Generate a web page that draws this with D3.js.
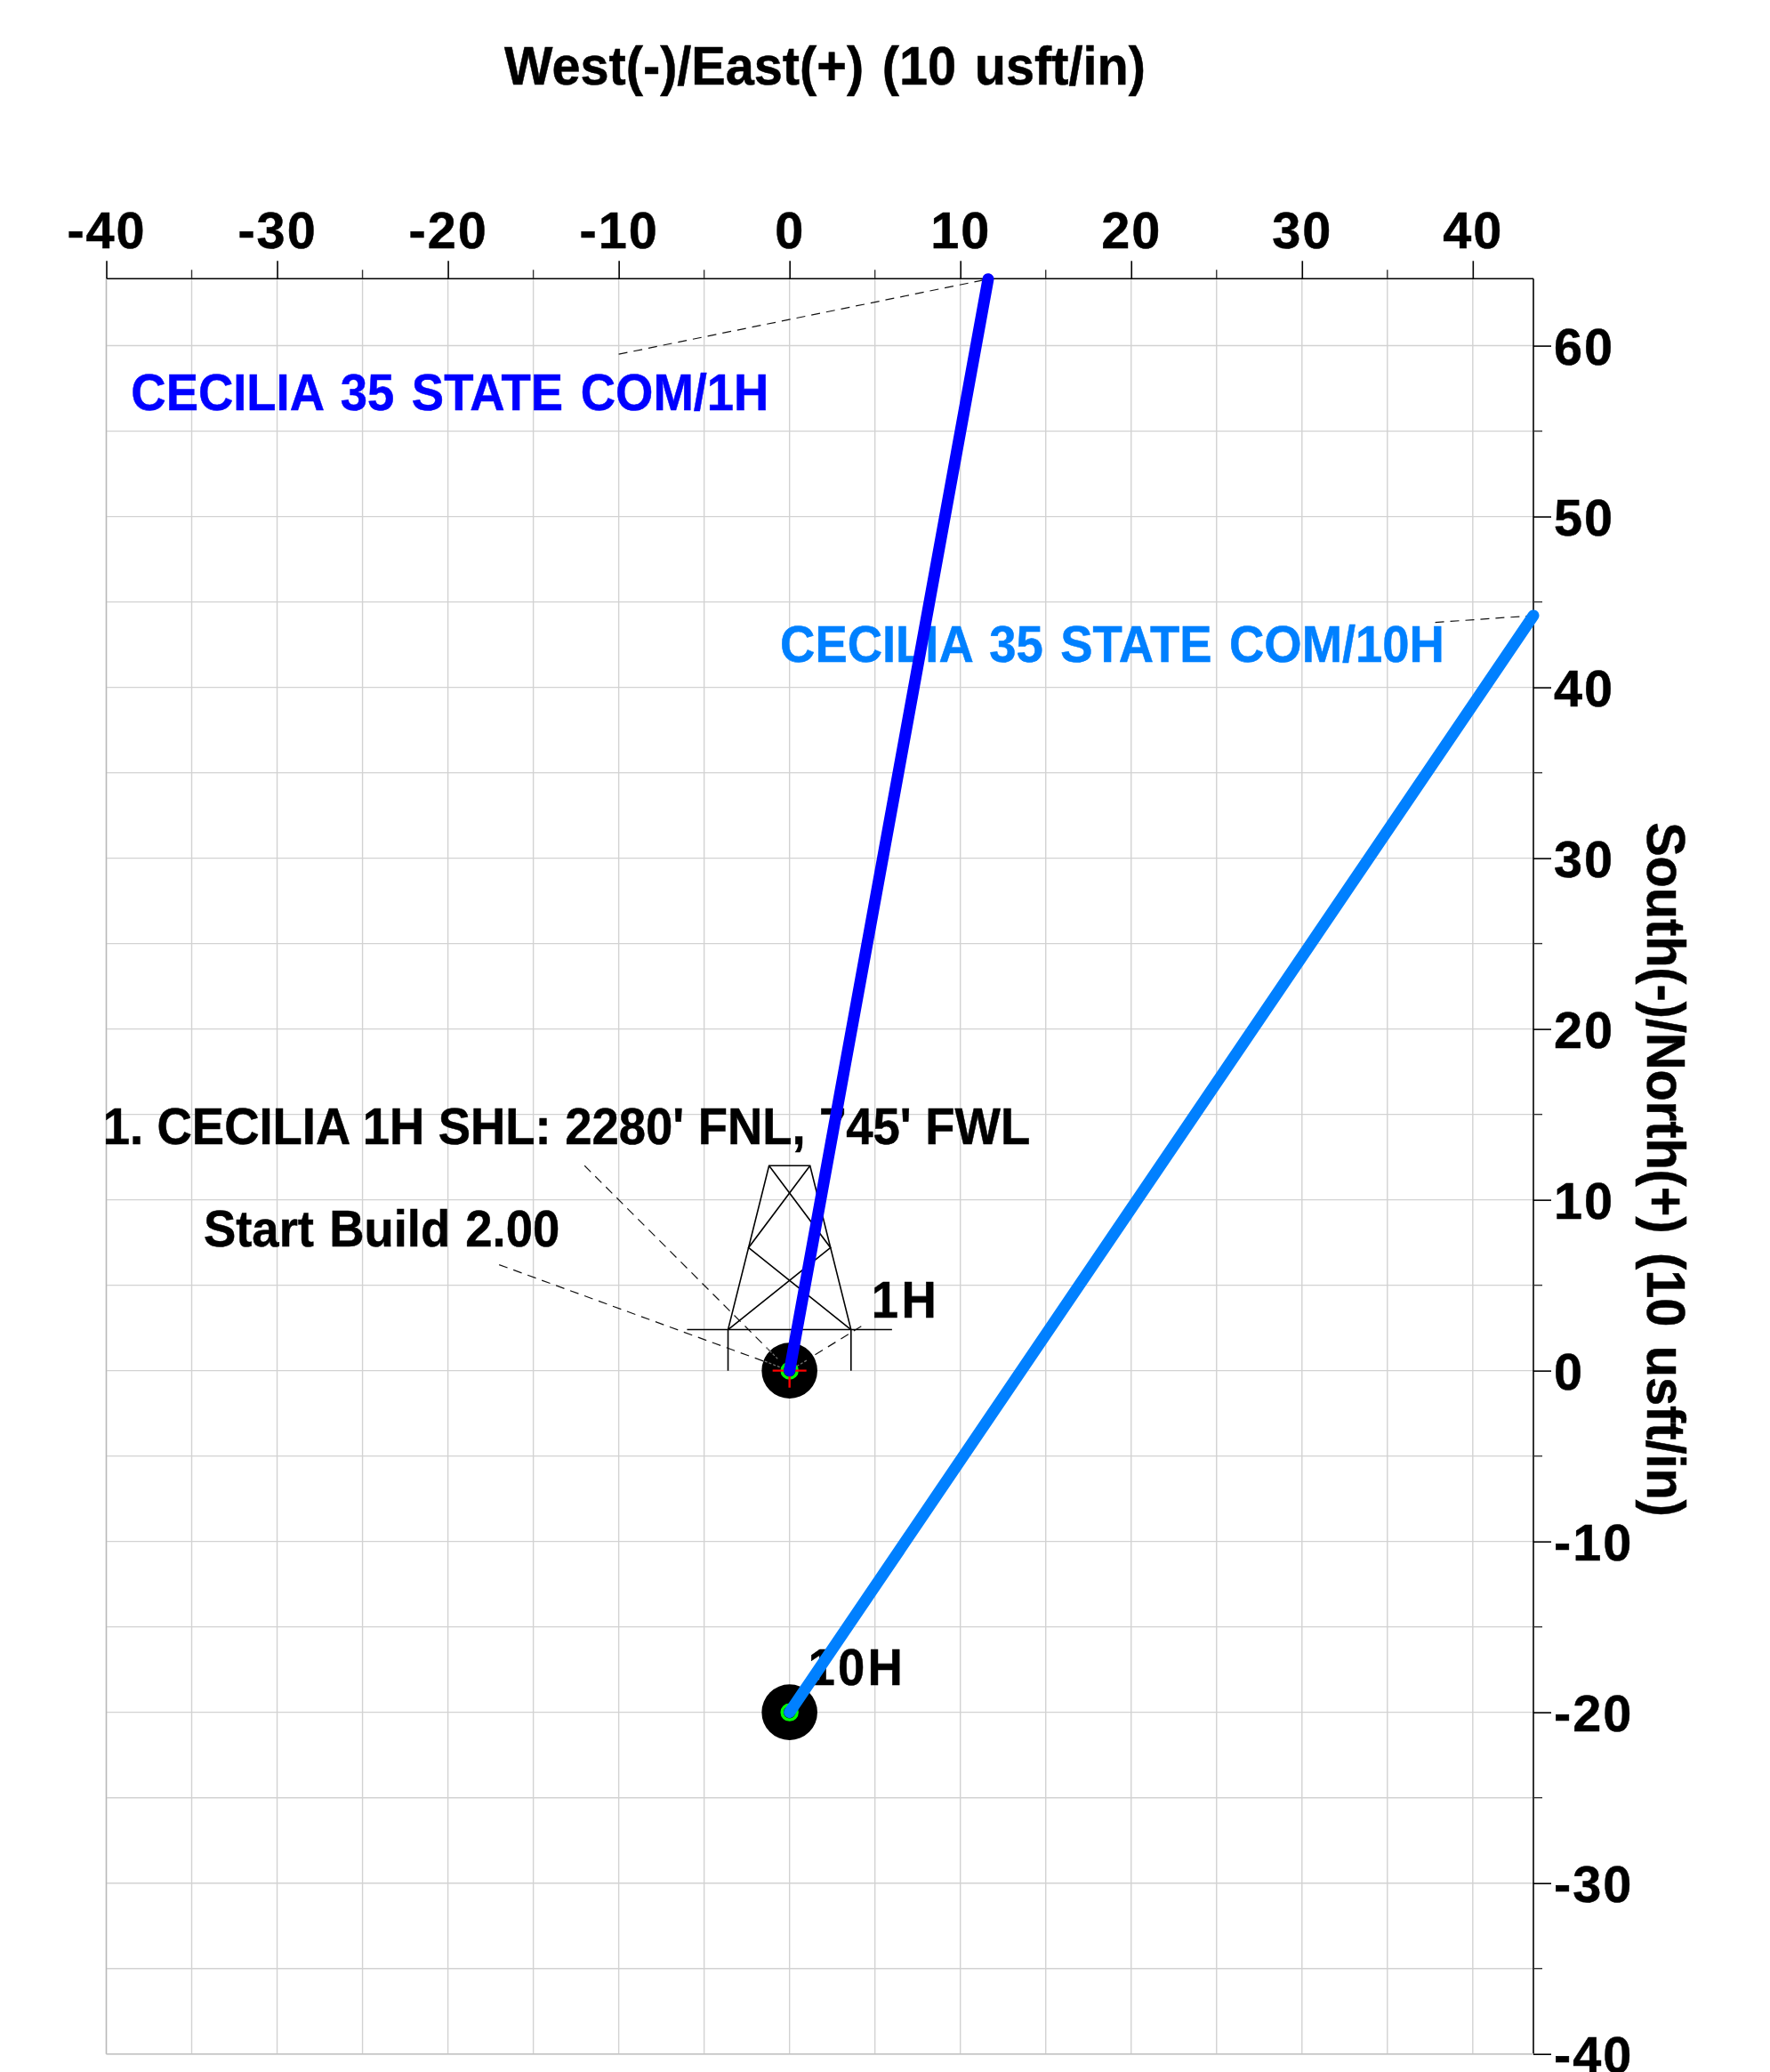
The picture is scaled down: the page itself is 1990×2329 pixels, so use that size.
<!DOCTYPE html>
<html><head><meta charset="utf-8">
<script src="https://cdn.jsdelivr.net/npm/d3@7"></script>
<style>html,body{margin:0;padding:0;background:#fff}svg{display:block}text{font-family:"Liberation Sans",Arial,sans-serif;font-weight:bold;stroke:currentColor;stroke-width:.5px}</style>
</head><body><script>
// ---- data (usft/in, east, north) ----
const xMajor = [-40,-30,-20,-10,0,10,20,30,40];
const yMajor = [60,50,40,30,20,10,0,-10,-20,-30,-40];
const xMinor = [-35,-25,-15,-5,5,15,25,35];
const yMinor = [55,45,35,25,15,5,-5,-15,-25,-35];
const well1H = [[0,0],[11.63,63.9]];
const well10H = [[0,-20],[43.55,44.2]];
const wellHeads = [[0,0],[0,-20]];
const derrickFrame = [[-3.6,0],[-3.6,2.4],[-1.2,12],[1.2,12],[3.6,2.4],[3.6,0]];
const derrickBraceA = [[-1.2,12],[2.4,7.2],[-3.6,2.4]];
const derrickBraceB = [[1.2,12],[-2.4,7.2],[3.6,2.4]];
const derrickBase = [[-6,2.4],[6,2.4]];
const leaders = [
  [[-10,59.5],[11.63,63.9]],
  [[37.8,43.8],[43.55,44.2]],
  [[-12,12],[0,0]],
  [[-17,6.2],[0,0]],
  [[4.2,2.6],[0,0]]
];
const leaderInner = [
  [[-1.35,1.35],[-0.7,0.7]],
  [[-1.45,0.55],[-0.3,0.1]],
  [[1.0,0.6],[0.4,0.25]]
];
const labels = [
  {t:"CECILIA 35 STATE COM/1H", x:-38.55, y:56.24, end:-1.2, c:"#0000ff"},
  {t:"CECILIA 35 STATE COM/10H", x:-0.55, y:41.48, end:38.35, c:"#0080ff"},
  {t:"1. CECILIA 1H SHL: 2280' FNL, 745' FWL", x:-40.2, y:13.25, end:14.1, c:"#000"},
  {t:"Start Build 2.00", x:-34.3, y:7.25, end:-13.45, c:"#000"},
  {t:"1H", x:4.8, y:3.1, c:"#000", spread:true},
  {t:"10H", x:1.08, y:-18.4, c:"#000", spread:true}
];
const xTitle = "West(-)/East(+) (10 usft/in)";
const yTitle = "South(-)/North(+) (10 usft/in)";

// ---- layout ----
const W=1990,H=2329,GLYPH_X=0.945;
const x=d3.scaleLinear().domain([-40,43.55]).range([119.5,1724]);
const y=d3.scaleLinear().domain([-40,63.92]).range([2308.7,313.3]);
const svg=d3.select("body").append("svg").attr("width",W).attr("height",H);
const line=d3.line().x(d=>x(d[0])).y(d=>y(d[1]));
const [L,R]=x.range(),[B,T]=y.range();

// Set a condensed glyph width and open the word gaps until the text spans `target` px
function fit(sel,target,px,py,rot,anchorMiddle){
  const n=sel.text().split(" ").length-1;
  if(target&&n){
    const natural=sel.node().getComputedTextLength();
    sel.style("word-spacing",((target/GLYPH_X-natural)/n)+"px");
  }
  if(anchorMiddle) sel.attr("text-anchor","middle");
  sel.attr("transform",`translate(${px},${py}) rotate(${rot}) scale(${GLYPH_X},1)`);
}

// grid
svg.append("g").selectAll("line").data(xMajor.concat(xMinor)).join("line")
 .attr("x1",d=>x(d)).attr("x2",d=>x(d)).attr("y1",T).attr("y2",B)
 .attr("stroke","#d2d2d2").attr("stroke-width",1.4);
svg.append("g").selectAll("line").data(yMajor.concat(yMinor)).join("line")
 .attr("x1",L).attr("x2",R).attr("y1",d=>y(d)).attr("y2",d=>y(d))
 .attr("stroke","#d2d2d2").attr("stroke-width",1.4);

// axes
const topAxis=d3.axisTop(x).tickValues(xMajor).tickSize(20).tickFormat(String);
const gt=svg.append("g").attr("transform",`translate(0,${T})`);
const rightAxis=d3.axisRight(y).tickValues(yMajor).tickSize(20).tickFormat(String);
const gr=svg.append("g").attr("transform",`translate(${R},0)`);
gt.call(topAxis); gr.call(rightAxis);
[gt,gr].forEach(g=>{g.attr("font-family",null).attr("font-size",null);
  g.selectAll("line,path").attr("stroke","#000").attr("stroke-width",1.6);
  g.selectAll("text").attr("fill","#000").style("color","#000").style("font-size","57.6px").style("letter-spacing","2px");});
gt.select(".domain").attr("d",`M${L},0H${R}`);
gr.select(".domain").attr("d",`M0,${T}V${B}`);
gt.selectAll("text").attr("y",-34).attr("dy",0);
gr.selectAll("text").attr("x",23).attr("dy","0.355em");
svg.append("g").selectAll("line").data(xMinor).join("line")
 .attr("x1",d=>x(d)).attr("x2",d=>x(d)).attr("y1",T).attr("y2",T-10).attr("stroke","#333").attr("stroke-width",1.4);
svg.append("g").selectAll("line").data(yMinor).join("line")
 .attr("x1",R).attr("x2",R+10).attr("y1",d=>y(d)).attr("y2",d=>y(d)).attr("stroke","#333").attr("stroke-width",1.4);
svg.append("line").attr("x1",L).attr("x2",L).attr("y1",T).attr("y2",B).attr("stroke","#b8b8b8").attr("stroke-width",1.4);
svg.append("line").attr("x1",L).attr("x2",R).attr("y1",B).attr("y2",B).attr("stroke","#c4c4c4").attr("stroke-width",1.6);

// titles
fit(svg.append("text").style("font-size","61px").text(xTitle),721,927.5,95,0,true);
fit(svg.append("text").style("font-size","61px").text(yTitle),781,1852,1314.5,90,true);

// labels
svg.append("g").selectAll("text").data(labels).join("text")
 .attr("fill",d=>d.c).style("color",d=>d.c).style("font-size","57.6px").style("letter-spacing",d=>d.spread?"3.5px":null).text(d=>d.t)
 .each(function(d){fit(d3.select(this),d.end===undefined?0:x(d.end)-x(d.x),x(d.x),y(d.y),0,false);});

// leaders
svg.append("g").selectAll("path").data(leaders).join("path").attr("d",line)
 .attr("fill","none").attr("stroke","#111").attr("stroke-width",1.2).attr("stroke-dasharray","10 7");

// derrick
const dg=svg.append("g").attr("fill","none").attr("stroke","#000").attr("stroke-width",1.6);
[derrickFrame,derrickBraceA,derrickBraceB,derrickBase].forEach(p=>dg.append("path").attr("d",line(p)));

// well heads
const r=31.3;
svg.append("g").selectAll("circle").data(wellHeads).join("circle")
 .attr("cx",d=>x(d[0])).attr("cy",d=>y(d[1])).attr("r",r).attr("fill","#000");
svg.append("g").selectAll("path").data(leaderInner).join("path").attr("d",line)
 .attr("fill","none").attr("stroke","#777").attr("stroke-width",1.2).attr("stroke-dasharray","3 2");
svg.append("g").selectAll("circle").data(wellHeads).join("circle")
 .attr("cx",d=>x(d[0])).attr("cy",d=>y(d[1])).attr("r",8.5).attr("fill","none").attr("stroke","#00ff00").attr("stroke-width",3.4);
// red cross at surface hole of 1H
const cx=x(0),cy=y(0);
svg.append("path").attr("d",`M${cx-19},${cy}H${cx+19}M${cx},${cy}V${cy+19}`).attr("stroke","#ff0000").attr("stroke-width",2.4).attr("fill","none");

// wellbores
[[well1H,"#0000ff"],[well10H,"#0080ff"]].forEach(([p,c])=>svg.append("path").attr("d",line(p))
 .attr("fill","none").attr("stroke",c).attr("stroke-width",13).attr("stroke-linecap","round"));
</script></body></html>
